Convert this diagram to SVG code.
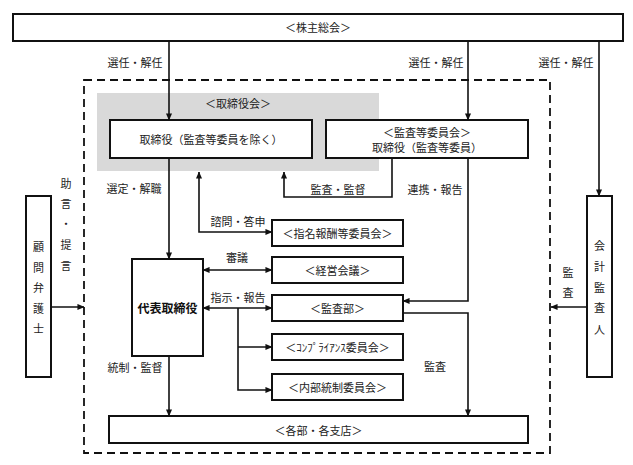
<svg xmlns="http://www.w3.org/2000/svg" width="633" height="465" viewBox="0 0 633 465">
<style>
text{font-family:"Noto Sans CJK JP","Noto Sans",sans-serif;font-size:11px;fill:#222;text-anchor:middle;dominant-baseline:central}
.box{fill:#fff;stroke:#111;stroke-width:2}
.c{fill:none;stroke:#111;stroke-width:1.6}
.b{font-weight:bold;font-size:12px;fill:#111}
</style>
<defs>
<marker id="ah" viewBox="0 0 8 8" refX="7.5" refY="4" markerWidth="7" markerHeight="7" markerUnits="userSpaceOnUse" orient="auto-start-reverse">
<path d="M0,0.5 L8,4 L0,7.5 Z" fill="#111"/>
</marker>
</defs>
<rect width="633" height="465" fill="#fff"/>
<g id="frame">
<rect x="84" y="80" width="466" height="373" fill="none" stroke="#111" stroke-width="1.8" stroke-dasharray="8,5"/>
</g>
<g id="board">
<rect x="97" y="93" width="282" height="78" fill="#d9d9d9"/>
<text x="238" y="103">＜取締役会＞</text>
</g>
<g id="shareholders">
<rect class="box" x="13" y="14" width="610" height="27"/>
<text x="318" y="27">＜株主総会＞</text>
</g>
<g id="directors">
<rect class="box" x="110" y="120" width="202" height="38"/>
<text x="211" y="139">取締役（監査等委員を除く）</text>
</g>
<g id="audit-committee">
<rect class="box" x="326" y="120" width="202" height="38"/>
<text x="427" y="132">＜監査等委員会＞</text>
<text x="427" y="147">取締役（監査等委員）</text>
</g>
<g id="ceo">
<rect class="box" x="132" y="259" width="71" height="97"/>
<text class="b" x="167.5" y="307">代表取締役</text>
</g>
<g id="nomination">
<rect class="box" x="272" y="220" width="131" height="26"/>
<text x="337.5" y="233">＜指名報酬等委員会＞</text>
</g>
<g id="management">
<rect class="box" x="272" y="257" width="131" height="26"/>
<text x="337.5" y="270">＜経営会議＞</text>
</g>
<g id="internal-audit">
<rect class="box" x="272" y="295" width="131" height="26"/>
<text x="337.5" y="308">＜監査部＞</text>
</g>
<g id="compliance">
<rect class="box" x="272" y="334" width="131" height="26"/>
<text x="337.5" y="347">＜ｺﾝﾌﾟﾗｲｱﾝｽ委員会＞</text>
</g>
<g id="internal-control">
<rect class="box" x="272" y="374" width="131" height="26"/>
<text x="337.5" y="387">＜内部統制委員会＞</text>
</g>
<g id="branches">
<rect class="box" x="109" y="416" width="419" height="27"/>
<text x="318.5" y="429.5">＜各部・各支店＞</text>
</g>
<g id="lawyer">
<rect class="box" x="26" y="196" width="25" height="181"/>
<text x="38.5" y="246">顧</text>
<text x="38.5" y="267">問</text>
<text x="38.5" y="287">弁</text>
<text x="38.5" y="308">護</text>
<text x="38.5" y="328">士</text>
</g>
<g id="auditor">
<rect class="box" x="587" y="196" width="25" height="181"/>
<text x="599.5" y="245">会</text>
<text x="599.5" y="266">計</text>
<text x="599.5" y="287">監</text>
<text x="599.5" y="307">査</text>
<text x="599.5" y="329">人</text>
</g>
<g id="connectors">
<path class="c" d="M169,41 V120" marker-end="url(#ah)"/>
<path class="c" d="M468,41 V120" marker-end="url(#ah)"/>
<path class="c" d="M599,41 V196" marker-end="url(#ah)"/>
<path class="c" d="M169,158 V259" marker-end="url(#ah)"/>
<path class="c" d="M199,172 V232 H272" marker-start="url(#ah)" marker-end="url(#ah)"/>
<path class="c" d="M392,158 V197 H284 V172" marker-end="url(#ah)"/>
<path class="c" d="M468,158 V301 H403" marker-end="url(#ah)"/>
<path class="c" d="M403,313 H468 V416" marker-end="url(#ah)"/>
<path class="c" d="M203,270 H272" marker-start="url(#ah)" marker-end="url(#ah)"/>
<path class="c" d="M203,308 H272" marker-start="url(#ah)" marker-end="url(#ah)"/>
<path class="c" d="M238,308 V390 H272" marker-end="url(#ah)"/>
<path class="c" d="M238,347 H272" marker-end="url(#ah)"/>
<path class="c" d="M169,356 V416" marker-end="url(#ah)"/>
<path class="c" d="M51,307 H84" marker-end="url(#ah)"/>
<path class="c" d="M587,307 H551" marker-end="url(#ah)"/>
</g>
<g id="labels">
<text x="135" y="62">選任・解任</text>
<text x="436" y="62">選任・解任</text>
<text x="566" y="62">選任・解任</text>
<text x="134" y="188">選定・解職</text>
<text x="338" y="189">監査・監督</text>
<text x="435" y="189">連携・報告</text>
<text x="238" y="221">諮問・答申</text>
<text x="237" y="257">審議</text>
<text x="238" y="297">指示・報告</text>
<text x="135" y="367">統制・監督</text>
<text x="435" y="366">監査</text>
<text x="568" y="272">監</text>
<text x="568" y="292">査</text>
<text x="66" y="183">助</text>
<text x="66" y="203">言</text>
<text x="66" y="223">・</text>
<text x="66" y="244">提</text>
<text x="66" y="265">言</text>
</g>
</svg>
